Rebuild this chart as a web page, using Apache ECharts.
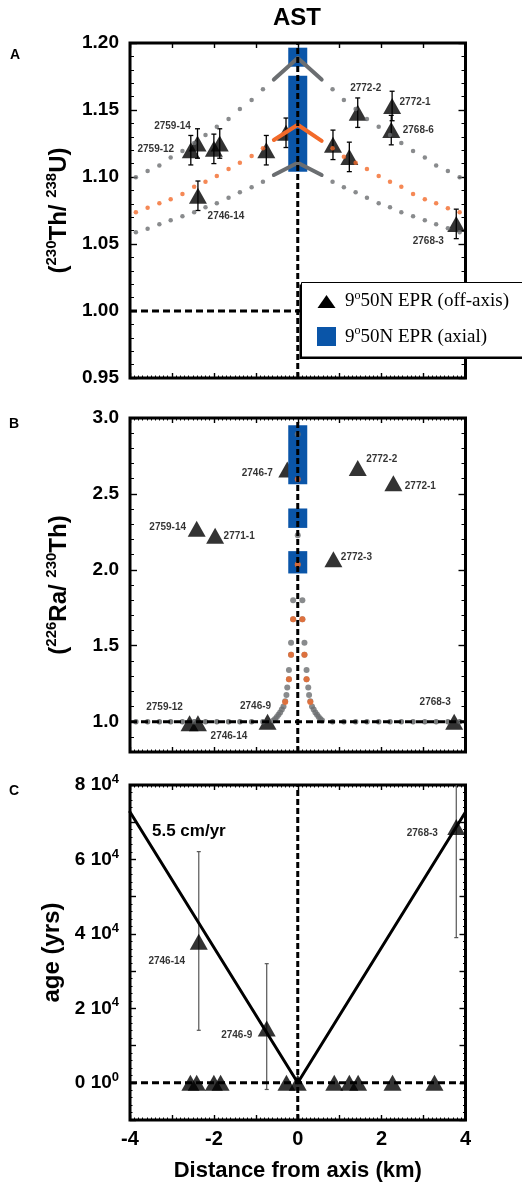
<!DOCTYPE html>
<html>
<head>
<meta charset="utf-8">
<script src="https://cdn.jsdelivr.net/npm/echarts@6/dist/echarts.min.js"></script>
<style>
  html, body { margin: 0; padding: 0; background: #fff; }
  #chart { width: 522px; height: 1183px; }
</style>
</head>
<body>
<div id="chart"></div>
<script>
// ---------- tick labels ----------
const xTickLabels = [-4, -2, 0, 2, 4];
const thTickLabels = [0.95, 1.00, 1.05, 1.10, 1.15, 1.20];
const raTickLabels = [1.0, 1.5, 2.0, 2.5, 3.0];
const ageTickLabels = [0, 20000, 40000, 60000, 80000];

// ---------- panel A: (230Th/238U) ----------
const thNames = ['2759-12', '2759-14', '', '', '2746-14', '', '', '', '', '2772-2', '2772-1', '2768-6', '2768-3'];
const thX     = [-2.55, -2.39, -2.00, -1.86, -2.38, -0.75, -0.28, 0.84, 1.23, 1.43, 2.25, 2.23, 3.78];
const thY     = [1.120, 1.125, 1.121, 1.125, 1.086, 1.120, 1.133, 1.124, 1.115, 1.148, 1.153, 1.135, 1.065];
const thErr   = [0.011, 0.011, 0.011, 0.011, 0.011, 0.011, 0.011, 0.011, 0.011, 0.011, 0.011, 0.011, 0.011];

// axial sample ranges
const thAxialX  = [0, 0];
const thAxialLo = [1.1823, 1.1040];
const thAxialHi = [1.1965, 1.1756];

// model curves, sampled off axis
const modelX = [-3.86, -3.58, -3.30, -3.03, -2.75, -2.47, -2.20, -1.93, -1.65, -1.38, -1.10, -0.83,
                 0.83,  1.10,  1.38,  1.65,  1.93,  2.20,  2.47,  2.75,  3.03,  3.30,  3.58,  3.86];
const thModelHigh = [1.0998, 1.1045, 1.1085, 1.1145, 1.1194, 1.1254, 1.1313, 1.1375, 1.1433, 1.1507, 1.1575, 1.1654,
                     1.1654, 1.1575, 1.1507, 1.1433, 1.1375, 1.1313, 1.1254, 1.1194, 1.1145, 1.1085, 1.1045, 1.0998];
const thModelMid  = [1.0737, 1.0771, 1.0804, 1.0834, 1.0873, 1.0928, 1.0965, 1.1007, 1.1060, 1.1107, 1.1157, 1.1214,
                     1.1214, 1.1152, 1.1107, 1.1060, 1.1007, 1.0965, 1.0928, 1.0873, 1.0834, 1.0804, 1.0766, 1.0737];
const thModelLow  = [1.0587, 1.0614, 1.0647, 1.0677, 1.0707, 1.0737, 1.0774, 1.0804, 1.0846, 1.0886, 1.0923, 1.0965,
                     1.0965, 1.0923, 1.0886, 1.0846, 1.0804, 1.0774, 1.0737, 1.0707, 1.0677, 1.0647, 1.0617, 1.0587];
// model curves, densely sampled near the axis
const nearAxisX  = [-0.57, 0, 0.57];
const thNearHigh = [1.1727, 1.1888, 1.1727];
const thNearMid  = [1.1276, 1.1390, 1.1270];
const thNearLow  = [1.1015, 1.1107, 1.1015];

// ---------- panel B: (226Ra/230Th) ----------
const raNames = ['2746-7', '2772-2', '2772-1', '2759-14', '2771-1', '2772-3', '2759-12', '2746-14', '2746-9', '2768-3'];
const raX     = [-0.25, 1.43, 2.28, -2.41, -1.97, 0.85, -2.58, -2.38, -0.72, 3.73];
const raY     = [2.66, 2.67, 2.57, 2.27, 2.225, 2.07, 0.99, 0.99, 1.00, 1.00];

const raAxialX  = [0, 0, 0];
const raAxialLo = [2.564, 2.276, 1.976];
const raAxialHi = [2.952, 2.404, 2.123];

const raGrayX = [0, 0, 0,
  -0.11, 0.11, -0.11, 0.11, -0.16, 0.16, -0.16, 0.16, -0.21, 0.21, -0.21, 0.21,
  -0.25, 0.25, -0.27, 0.27, -0.30, 0.30, -0.34, 0.34, -0.38, 0.38, -0.42, 0.42,
  -0.46, 0.46, -0.50, 0.50, -0.54, 0.54, -0.58, 0.58];
const raGrayY = [2.893, 2.228, 2.035,
  1.80, 1.80, 1.675, 1.675, 1.52, 1.52, 1.44, 1.44, 1.34, 1.34, 1.28, 1.28,
  1.225, 1.225, 1.176, 1.176, 1.135, 1.135, 1.100, 1.100, 1.080, 1.080, 1.060, 1.060,
  1.045, 1.045, 1.030, 1.030, 1.018, 1.018, 1.008, 1.008];
const raGrayFlat = [1.0, 1.0, 1.0, 1.0, 1.0, 1.0, 1.0, 1.0, 1.0, 1.0, 1.0, 1.0,
                    1.0, 1.0, 1.0, 1.0, 1.0, 1.0, 1.0, 1.0, 1.0, 1.0, 1.0, 1.0];
const raOrangeX = [0, 0, -0.11, 0.11, -0.16, 0.16, -0.21, 0.21, -0.30, 0.30];
const raOrangeY = [2.597, 2.035, 1.675, 1.675, 1.44, 1.44, 1.28, 1.28, 1.13, 1.13];

// ---------- panel C: age ----------
const ageNames = ['2746-14', '2746-9', '2768-3'];
const ageX  = [-2.36, -0.74, 3.78];
const ageY  = [37900, 14600, 68700];
const ageLo = [14100, -1800, 39000];
const ageHi = [62100, 32000, 98400];
const zeroAgeX = [-2.56, -2.41, -2.00, -1.84, -0.27, 0.00, 0.87, 1.23, 1.44, 2.26, 3.26];
const zeroAgeY = [0, 0, 0, 0, 0, 0, 0, 0, 0, 0, 0];
const spreadingRate = 5.5;          // cm/yr
const rateLineX = [-4, 0, 4];       // km

// ---------- styling ----------
const FONT = 'Liberation Sans';
const GRAY = '#6b6e71';
const ORANGE = '#f26a2a';
const BLUE = '#0a55a8';
const X_MIN = -4, X_MAX = 4;
const TH_MIN = 0.95, TH_MAX = 1.20;
const RA_MIN = 0.8, RA_MAX = 3.0;
const AGE_MIN = -10000, AGE_MAX = 80000;

// sample label placement (offset from marker centre, px)
const labelOffsetA = {'2759-14': [-25, -17], '2759-12': [-35, -1], '2746-14': [28, 20], '2772-2': [8, -24],
                      '2772-1': [23, -4], '2768-6': [27, 0], '2768-3': [-28, 17]};
const labelOffsetB = {'2746-7': [-30, 4], '2772-2': [24, -9], '2772-1': [27, 3], '2759-14': [-29, -2],
                      '2771-1': [24, 1], '2772-3': [23, -2], '2759-12': [-25, -16], '2746-14': [31, 13],
                      '2746-9': [-12, -15], '2768-3': [-19, -19]};
const labelOffsetC = {'2746-14': [-32, 20], '2746-9': [-30, 7], '2768-3': [-34, 6]};

const chart = echarts.init(document.getElementById('chart'), null, {renderer: 'canvas', width: 522, height: 1183});

const grids = [
  {left: 130, top: 43, width: 335.5, height: 335},
  {left: 130, top: 418, width: 335.5, height: 334},
  {left: 130, top: 785, width: 335.5, height: 335}
].map(g => Object.assign({show: true, borderColor: '#000', borderWidth: 3, backgroundColor: 'transparent',
                          containLabel: false, outerBoundsMode: 'none'}, g));

const tickStyle = {color: '#000', width: 1.4};

function xAxis(gi, pos, minor, withLabels) {
  const ax = {
    type: 'value', gridIndex: gi, position: pos, min: X_MIN, max: X_MAX, interval: 1,
    axisLine: {show: false, onZero: false},
    splitLine: {show: false},
    axisTick: {show: true, inside: true, length: 5, lineStyle: tickStyle},
    minorTick: {show: minor, splitNumber: 10, length: 2.5, lineStyle: {color: '#000', width: 1}},
    axisLabel: {show: false}
  };
  if (withLabels) {
    ax.axisLabel = {show: true, customValues: xTickLabels, margin: 9, color: '#000',
                    fontFamily: FONT, fontWeight: 'bold', fontSize: 20, formatter: v => String(v)};
    ax.name = 'Distance from axis (km)';
    ax.nameLocation = 'middle';
    ax.nameGap = 40;
    ax.nameMoveOverlap = false;
    ax.nameTextStyle = {fontFamily: FONT, fontWeight: 'bold', fontSize: 22, color: '#000'};
  }
  return ax;
}

function yAxis(gi, pos, cfg) {
  return Object.assign({
    type: 'value', gridIndex: gi, position: pos,
    axisLine: {show: false, onZero: false},
    splitLine: {show: false},
    axisTick: {show: true, inside: true, length: 7, lineStyle: tickStyle},
    minorTick: {show: false},
    axisLabel: {show: false}
  }, cfg);
}

const labelFont = {fontFamily: FONT, fontWeight: 'bold', fontSize: 24, color: '#000', lineHeight: 30, verticalAlign: 'middle'};
const supFont = {fontFamily: FONT, fontWeight: 'bold', fontSize: 15, color: '#000', lineHeight: 14, verticalAlign: 'top'};
const yNameStyle = {rich: {n: labelFont, s: supFont}};
const yTickFont = {color: '#000', fontFamily: FONT, fontWeight: 'bold', fontSize: 19, margin: 11};

const xAxes = [
  xAxis(0, 'bottom', true, false), xAxis(0, 'top', false, false),
  xAxis(1, 'bottom', true, false), xAxis(1, 'top', true, false),
  xAxis(2, 'bottom', true, true),  xAxis(2, 'top', true, false)
];

const thAxisBase = {min: TH_MIN, max: TH_MAX, interval: 0.05,
  minorTick: {show: true, splitNumber: 5, length: 4, lineStyle: {color: '#000', width: 1}}};
const raMinorBase = {min: RA_MIN, max: RA_MAX, interval: 0.1,
  axisTick: {show: true, inside: true, length: 4, lineStyle: {color: '#000', width: 1}}};
const raMajorBase = {min: RA_MIN, max: RA_MAX, interval: 0.1,
  axisTick: {show: true, inside: true, length: 7, customValues: raTickLabels, lineStyle: tickStyle}};
const ageAxisBase = {min: AGE_MIN, max: AGE_MAX, interval: 10000,
  axisTick: {show: true, inside: true, length: 6, lineStyle: tickStyle},
  minorTick: {show: true, splitNumber: 5, length: 2.5, lineStyle: {color: '#000', width: 1}}};

const yAxes = [
  // 0: A left
  yAxis(0, 'left', Object.assign({}, thAxisBase, {
    axisLabel: Object.assign({show: true, customValues: thTickLabels, formatter: v => v.toFixed(2)}, yTickFont),
    name: '{n|(}{s|230}{n|Th/ }{s|238}{n|U)}', nameLocation: 'middle', nameGap: 56, nameMoveOverlap: false,
    nameTextStyle: yNameStyle
  })),
  // 1: A right
  yAxis(0, 'right', Object.assign({}, thAxisBase)),
  // 2: B left (labels + major ticks)
  yAxis(1, 'left', Object.assign({}, raMajorBase, {
    axisLabel: Object.assign({show: true, customValues: raTickLabels, formatter: v => v.toFixed(1)}, yTickFont),
    name: '{n|(}{s|226}{n|Ra/ }{s|230}{n|Th)}', nameLocation: 'middle', nameGap: 56, nameMoveOverlap: false,
    nameTextStyle: yNameStyle
  })),
  // 3: B left minor
  yAxis(1, 'left', Object.assign({}, raMinorBase)),
  // 4: B right major
  yAxis(1, 'right', Object.assign({}, raMajorBase)),
  // 5: B right minor
  yAxis(1, 'right', Object.assign({}, raMinorBase)),
  // 6: C left
  yAxis(2, 'left', Object.assign({}, ageAxisBase, {
    axisLabel: Object.assign({show: true, customValues: ageTickLabels,
      formatter: v => v === 0 ? '{n|0 10}{s|0}' : '{n|' + (v / 10000) + ' 10}{s|4}',
      rich: {
        n: {fontFamily: FONT, fontWeight: 'bold', fontSize: 19, color: '#000', lineHeight: 24, verticalAlign: 'middle'},
        s: {fontFamily: FONT, fontWeight: 'bold', fontSize: 13, color: '#000', lineHeight: 12, verticalAlign: 'top'}
      }}, yTickFont),
    name: 'age (yrs)', nameLocation: 'middle', nameGap: 66, nameMoveOverlap: false,
    nameTextStyle: {fontFamily: FONT, fontWeight: 'bold', fontSize: 24, color: '#000'}
  })),
  // 7: C right
  yAxis(2, 'right', Object.assign({}, ageAxisBase))
];

// ---------- series helpers ----------
function pairs(xs, ys) { return xs.map((x, i) => [x, ys[i]]); }

function triangles(xi, yi, xs, ys, names, offsets, z) {
  return {
    type: 'scatter', xAxisIndex: xi, yAxisIndex: yi, z: z || 3,
    symbol: 'triangle', symbolSize: [18, 16],
    itemStyle: {color: '#000'},
    silent: true,
    data: xs.map((x, i) => {
      const nm = names ? names[i] : '';
      const off = nm && offsets[nm];
      return {
        value: [x, ys[i]], name: nm,
        label: off ? {show: true, position: 'inside', offset: off} : {show: false}
      };
    }),
    label: {show: false, formatter: p => p.name, color: '#000', fontFamily: FONT, fontWeight: 'bold', fontSize: 10}
  };
}

function errorBars(xi, yi, rows, color, width, cap, clipMax, z) {
  return {
    type: 'custom', xAxisIndex: xi, yAxisIndex: yi, z: z || 2, silent: true,
    encode: {x: 0, y: [1, 2]},
    data: rows,
    renderItem(params, api) {
      const x = api.value(0), lo = api.value(1), hi = api.value(2);
      const pLo = api.coord([x, lo]);
      const pHi = api.coord([x, Math.min(hi, clipMax)]);
      const st = {stroke: color, lineWidth: width};
      const kids = [
        {type: 'line', shape: {x1: pLo[0], y1: pLo[1], x2: pHi[0], y2: pHi[1]}, style: st},
        {type: 'line', shape: {x1: pLo[0] - cap, y1: pLo[1], x2: pLo[0] + cap, y2: pLo[1]}, style: st}
      ];
      if (hi <= clipMax) {
        kids.push({type: 'line', shape: {x1: pHi[0] - cap, y1: pHi[1], x2: pHi[0] + cap, y2: pHi[1]}, style: st});
      }
      return {type: 'group', children: kids};
    }
  };
}

function axialBoxes(xi, yi, xs, lo, hi) {
  return {
    type: 'custom', xAxisIndex: xi, yAxisIndex: yi, z: 4, silent: true,
    encode: {x: 0, y: [1, 2]},
    data: xs.map((x, i) => [x, lo[i], hi[i]]),
    renderItem(params, api) {
      const a = api.coord([api.value(0), api.value(2)]);
      const b = api.coord([api.value(0), api.value(1)]);
      return {type: 'rect', shape: {x: a[0] - 9.5, y: a[1], width: 19, height: b[1] - a[1]}, style: {fill: BLUE}};
    }
  };
}

function dots(xi, yi, data, color, size, z) {
  return {type: 'scatter', xAxisIndex: xi, yAxisIndex: yi, z: z || 5, silent: true,
          symbol: 'circle', symbolSize: size, itemStyle: {color: color}, data: data};
}

function solid(xi, yi, data, color, width, z) {
  return {type: 'line', xAxisIndex: xi, yAxisIndex: yi, z: z || 5, silent: true, symbol: 'none',
          lineStyle: {color: color, width: width, cap: 'round', join: 'round'}, data: data};
}

function dashed(xi, yi, data, dash, z) {
  return {type: 'line', xAxisIndex: xi, yAxisIndex: yi, z: z || 7, silent: true, symbol: 'none',
          lineStyle: {color: '#000', width: 3, type: dash}, data: data};
}

// spreading-rate line: age (yr) = distance (km) * 1e5 cm/km / rate (cm/yr)
const rateLine = rateLineX.map(x => [x, Math.abs(x) * 1e5 / spreadingRate]);

const series = [
  // ----- A -----
  errorBars(0, 0, thX.map((x, i) => [x, thY[i] - thErr[i], thY[i] + thErr[i]]), '#000', 1.3, 2.5, TH_MAX, 2),
  triangles(0, 0, thX, thY, thNames, labelOffsetA, 3),
  axialBoxes(0, 0, thAxialX, thAxialLo, thAxialHi),
  dots(0, 0, pairs(modelX, thModelHigh), GRAY, 4.5),
  dots(0, 0, pairs(modelX, thModelLow), GRAY, 4.5),
  dots(0, 0, pairs(modelX, thModelMid), ORANGE, 4.5),
  solid(0, 0, pairs(nearAxisX, thNearHigh), GRAY, 4),
  solid(0, 0, pairs(nearAxisX, thNearLow), GRAY, 4),
  solid(0, 0, pairs(nearAxisX, thNearMid), ORANGE, 4),
  dashed(0, 0, [[X_MIN, 1.0], [X_MAX, 1.0]], [7, 4]),
  dashed(0, 0, [[0, TH_MIN], [0, TH_MAX]], [6, 3]),
  // ----- B -----
  triangles(2, 2, raX, raY, raNames, labelOffsetB, 3),
  axialBoxes(2, 2, raAxialX, raAxialLo, raAxialHi),
  dots(2, 2, pairs(raGrayX, raGrayY), GRAY, 6),
  dots(2, 2, pairs(modelX, raGrayFlat), '#555759', 5.5),
  dots(2, 2, pairs(raOrangeX, raOrangeY), ORANGE, 6, 6),
  dashed(2, 2, [[X_MIN, 1.0], [X_MAX, 1.0]], [7, 4]),
  dashed(2, 2, [[0, RA_MIN], [0, RA_MAX]], [6, 3]),
  // ----- C -----
  errorBars(4, 6, ageX.map((x, i) => [x, ageLo[i], ageHi[i]]), '#555', 1.2, 2, AGE_MAX, 2),
  solid(4, 6, rateLine, '#000', 3, 3),
  triangles(4, 6, ageX, ageY, ageNames, labelOffsetC, 4),
  triangles(4, 6, zeroAgeX, zeroAgeY, null, {}, 4),
  dashed(4, 6, [[X_MIN, 0], [X_MAX, 0]], [7, 4], 3),
  dashed(4, 6, [[0, AGE_MIN], [0, AGE_MAX]], [6, 3], 3)
];

const panelLetter = (t, x, y) => ({type: 'text', left: x, top: y, z: 20,
  style: {text: t, fontFamily: FONT, fontWeight: 'bold', fontSize: 14, fill: '#000'}});

const legendRich = {
  k: {fontFamily: 'Liberation Serif', fontSize: 19, color: '#000', lineHeight: 24, verticalAlign: 'middle'},
  ks: {fontFamily: 'Liberation Serif', fontSize: 12, color: '#000', lineHeight: 12, verticalAlign: 'top'},
  b: {fontFamily: 'Liberation Serif', fontSize: 19, color: '#2260b0', lineHeight: 24, verticalAlign: 'middle'},
  bs: {fontFamily: 'Liberation Serif', fontSize: 12, color: '#2260b0', lineHeight: 12, verticalAlign: 'top'}
};

const LZ = 100;
const graphic = [
  panelLetter('A', 10, 48),
  panelLetter('B', 9, 417),
  panelLetter('C', 9, 784),
  // legend box: drop shadow, then white panel with a thin border
  {type: 'rect', z: LZ, shape: {x: 299.5, y: 284.5, width: 240, height: 74.5}, style: {fill: '#000'}},
  {type: 'rect', z: LZ + 1, shape: {x: 301.5, y: 282.5, width: 240, height: 74.5},
   style: {fill: '#fff', stroke: '#000', lineWidth: 1}},
  {type: 'polygon', z: LZ + 2, shape: {points: [[317.5, 308], [335.5, 308], [326.5, 295]]}, style: {fill: '#000'}},
  {type: 'rect', z: LZ + 2, shape: {x: 317, y: 327, width: 19, height: 19}, style: {fill: BLUE}},
  {type: 'text', z: LZ + 2, x: 345, y: 301.5,
   style: {text: '{k|9}{ks|o}{k|50N EPR (off-axis)}', rich: legendRich, verticalAlign: 'middle', align: 'left'}},
  {type: 'text', z: LZ + 2, x: 345, y: 337,
   style: {text: '{b|9}{bs|o}{b|50N EPR (axial)}', rich: legendRich, verticalAlign: 'middle', align: 'left'}},
  {type: 'text', left: 152, top: 823, z: 20,
   style: {text: spreadingRate + ' cm/yr', fontFamily: FONT, fontWeight: 'bold', fontSize: 17, fill: '#000'}}
];

chart.setOption({
  animation: false,
  backgroundColor: '#fff',
  title: {text: 'AST', left: 297, top: 6, textAlign: 'center', padding: 0,
          textStyle: {fontFamily: FONT, fontWeight: 'bold', fontSize: 24, color: '#000'}},
  grid: grids,
  xAxis: xAxes,
  yAxis: yAxes,
  series: series,
  graphic: graphic
});
</script>
</body>
</html>
